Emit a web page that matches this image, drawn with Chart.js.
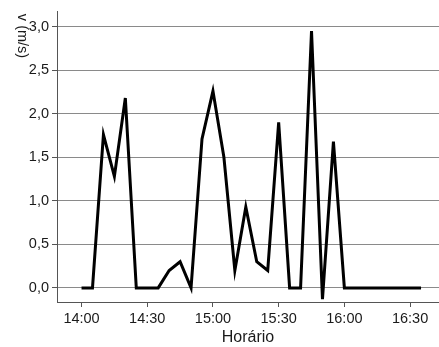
<!DOCTYPE html>
<html>
<head>
<meta charset="utf-8">
<script src="https://cdn.jsdelivr.net/npm/chart.js@4/dist/chart.umd.min.js"></script>
<style>
html,body{margin:0;padding:0;background:#fff;}
#wrap{width:439px;height:347px;}
</style>
</head>
<body>
<div id="wrap"><canvas id="c" width="439" height="347"></canvas></div>
<script>
const times = ["14:00","14:05","14:10","14:15","14:20","14:25","14:30","14:35","14:40","14:45","14:50","14:55",
  "15:00","15:05","15:10","15:15","15:20","15:25","15:30","15:35","15:40","15:45","15:50","15:55",
  "16:00","16:05","16:10","16:15","16:20","16:25","16:30","16:35"];
const speeds = [0,0,1.76,1.28,2.18,0,0,0,0.2,0.3,0,1.71,
  2.26,1.5,0.2,0.93,0.3,0.2,1.9,0,0,2.95,-0.13,1.68,
  0,0,0,0,0,0,0,0];
const xTickLabels = ["14:00","14:30","15:00","15:30","16:00","16:30"];
const yTickValues = [0,0.5,1,1.5,2,2.5,3];
const yTitle = "v (m/s)";
const xTitle = "Horário";

const toMin = s => { const [h,m] = s.split(":").map(Number); return (h-14)*60 + m; };
const fmtMin = v => { const h = 14 + Math.floor(v/60), m = v % 60; return h + ":" + String(m).padStart(2,"0"); };

const FONT = "'Liberation Sans', Arial, sans-serif";

const yTitlePlugin = {
  id: 'yTitle',
  afterDraw(chart) {
    const ctx = chart.ctx;
    ctx.save();
    ctx.translate(22, 36);
    ctx.rotate(Math.PI/2);
    ctx.font = "14.5px " + FONT;
    ctx.fillStyle = "#1a1a1a";
    ctx.textAlign = "center";
    ctx.textBaseline = "middle";
    ctx.fillText(yTitle, 0, 0);
    ctx.restore();
  }
};

new Chart(document.getElementById('c'), {
  type: 'line',
  data: {
    datasets: [{
      data: times.map((t,i) => ({x: toMin(t), y: speeds[i]})),
      borderColor: '#000',
      borderWidth: 3,
      pointRadius: 0,
      tension: 0,
      fill: false
    }]
  },
  options: {
    responsive: false,
    animation: false,
    events: [],
    layout: { padding: { top: 10, right: 0, left: 0, bottom: 0 } },
    plugins: { legend: { display: false }, tooltip: { enabled: false } },
    scales: {
      x: {
        type: 'linear',
        min: -11.2,
        max: 163.2,
        afterBuildTicks: s => { s.ticks = xTickLabels.map(l => ({ value: toMin(l) })); },
        afterFit: s => { s.height = 45; },
        ticks: {
          callback: v => fmtMin(v),
          font: { family: FONT, size: 14.5 },
          color: '#1a1a1a',
          padding: 3,
          maxRotation: 0,
          autoSkip: false
        },
        grid: { drawOnChartArea: false, drawTicks: true, tickLength: 5, tickColor: '#555', tickWidth: 1 },
        border: { display: true, color: '#555', width: 1 },
        title: { display: true, text: xTitle, font: { family: FONT, size: 16 }, color: '#1a1a1a', padding: { top: 0, bottom: 0 } }
      },
      y: {
        type: 'linear',
        min: -0.162,
        max: 3.171,
        afterBuildTicks: s => { s.ticks = yTickValues.map(v => ({ value: v })); },
        afterFit: s => { s.width = 57; },
        ticks: {
          callback: v => v.toFixed(1).replace('.', ','),
          font: { family: FONT, size: 14.5 },
          color: '#1a1a1a',
          padding: 3
        },
        grid: { color: '#8a8a8a', lineWidth: 1, drawTicks: true, tickLength: 5, tickColor: '#555' },
        border: { display: true, color: '#555', width: 1 }
      }
    }
  },
  plugins: [yTitlePlugin]
});
</script>
</body>
</html>
